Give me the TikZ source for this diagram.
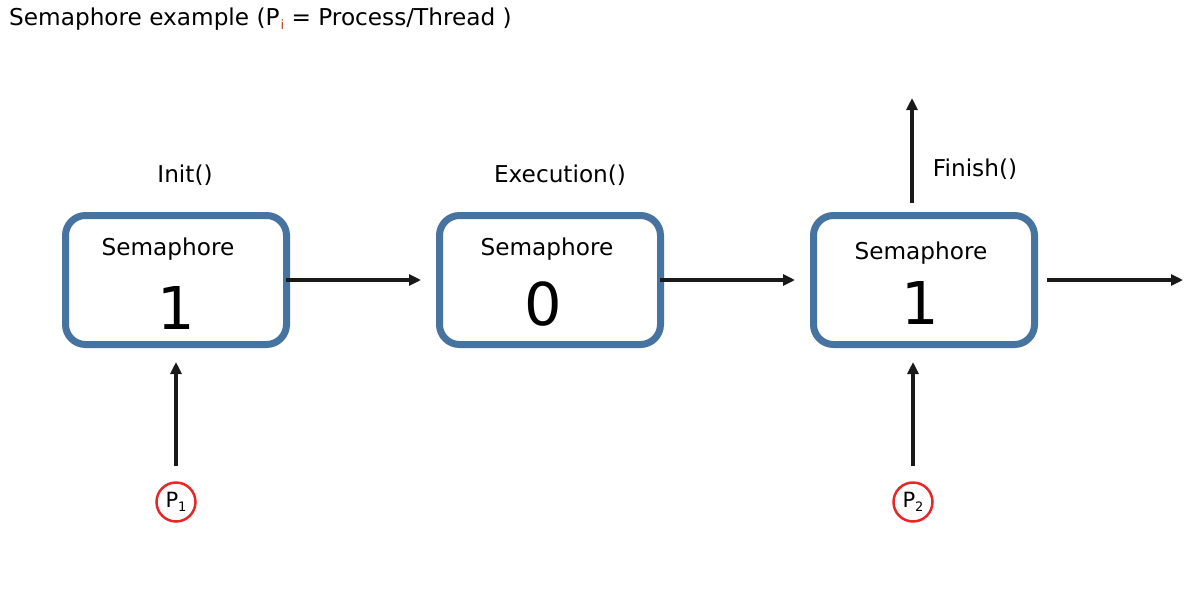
\documentclass[tikz,border=0pt]{standalone}
\usepackage{fontspec}
\setmainfont{DejaVu Sans}
\usetikzlibrary{positioning,arrows.meta}
\definecolor{semblue}{RGB}{71,115,160}
\definecolor{procred}{RGB}{232,40,40}
\definecolor{subbrown}{RGB}{176,72,16}

\begin{document}
\begin{tikzpicture}[x=1pt,y=1pt,node distance=374pt,on grid,
  >={Triangle[length=12pt,width=11pt]},
  sembox/.style={draw=semblue,line width=7pt,rounded corners=20pt,
    minimum width=221pt,minimum height=129pt,inner sep=0pt},
  lbl/.style={font=\fontsize{23.2}{27}\selectfont,inner sep=0pt,anchor=base},
  val/.style={font=\fontsize{59}{64}\selectfont,inner sep=0pt,anchor=base},
  proc/.style={circle,draw=procred,line width=2.5pt,minimum size=39pt,
    inner sep=0pt,font=\fontsize{21}{24}\selectfont},
  flow/.style={->,line width=3.2pt,draw=black!90}]
\useasboundingbox (0,0) rectangle (1191,-592);
\node[lbl,anchor=base west] (title) at (9,-25)
  {Semaphore example (P\kern1pt\raisebox{-4pt}{\color{subbrown}\fontsize{13}{13}\selectfont i} = Process/Thread )};

\node[sembox] (S1) at (176,-280) {};
\node[sembox] (S2) [right=of S1] {};
\node[sembox] (S3) [right=of S2] {};

\node[lbl] (name1) at ([shift={(-8,25)}]S1.center) {Semaphore};
\node[lbl] (name2) at ([shift={(-3,25)}]S2.center) {Semaphore};
\node[lbl] (name3) at ([shift={(-3,21)}]S3.center) {Semaphore};
\node[val] (v1) at ([shift={(0,-49)}]S1.center) {1};
\node[val] (v2) at ([shift={(-7,-45)}]S2.center) {0};
\node[val] (v3) at ([shift={(-4,-44)}]S3.center) {1};

\node[lbl] (init) at (185,-182) {Init()};
\node[lbl] (exec) at (560,-182) {Execution()};
\node[lbl] (fin) at (975,-176) {Finish()};

\node[proc] (P1) at (176,-502) {P\raisebox{-4pt}{\fontsize{13}{13}\selectfont 1}};
\node[proc] (P2) at (913,-502) {P\raisebox{-4pt}{\fontsize{13}{13}\selectfont 2}};

\coordinate (up) at (912,-98);
\coordinate (out) at (1183,-280);

\draw[flow,shorten <=-4pt,shorten >=15pt] (S1) -- (S2);
\draw[flow,shorten <=-4pt,shorten >=15pt] (S2) -- (S3);
\draw[flow,shorten <=9pt] (S3) -- (out);
\draw[flow,shorten <=9pt] (up |- S3.north) -- (up);
\draw[flow,shorten <=15pt,shorten >=14pt] (P1) -- (S1);
\draw[flow,shorten <=15pt,shorten >=14pt] (P2) -- (P2 |- S3.south);
\end{tikzpicture}
\end{document}
